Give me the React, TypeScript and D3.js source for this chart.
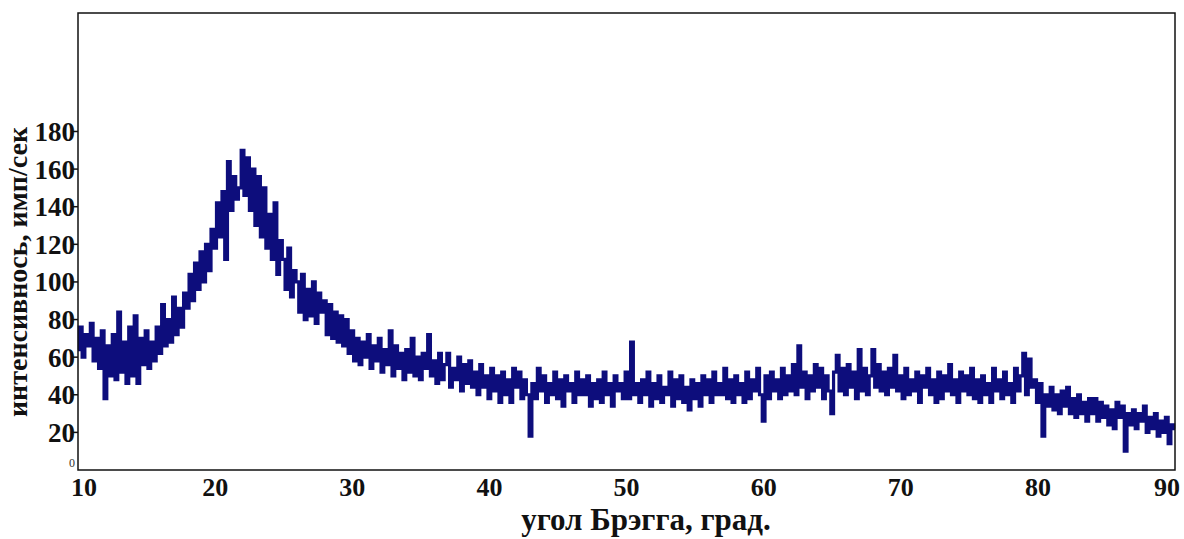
import React from "react";
import * as d3 from "d3";

// intensity, 0.2 deg step
const seg10 = [
  64, 76, 60, 72, 66, 78, 58, 70, 54, 74, 38, 66, 50, 72, 48, 84, 52, 68, 46, 76,
  50, 82, 46, 70, 56, 74, 54, 68, 58, 76, 62, 88, 66, 80, 68, 92, 72, 86, 76, 94,
  86, 104, 90, 110, 96, 116, 100, 120, 106, 128,
];
const seg20 = [
  118, 142, 124, 148, 112, 164, 138, 156, 144, 150, 170, 146, 166, 138, 160,
  130, 156, 124, 150, 118, 136, 112, 142, 104, 122, 112, 96, 118, 92, 106, 100,
  84, 104, 80, 96, 82, 100, 78, 94, 84, 90, 72, 88, 70, 84, 68, 82, 66, 80, 62,
];
const seg30 = [
  74, 58, 70, 56, 68, 60, 72, 54, 66, 58, 70, 52, 64, 56, 74, 50, 66, 54, 62, 48,
  64, 52, 70, 50, 60, 48, 62, 54, 72, 50, 58, 46, 62, 48, 56, 62, 44, 54, 48, 60,
  42, 56, 46, 58, 44, 52, 40, 56, 44, 50,
];
const seg40 = [
  38, 54, 42, 50, 36, 52, 40, 48, 36, 54, 44, 52, 38, 48, 40, 18, 46, 38, 54, 42,
  50, 36, 46, 40, 52, 38, 48, 34, 50, 42, 46, 36, 52, 40, 48, 40, 50, 34, 46, 38,
  48, 36, 52, 40, 46, 34, 50, 42, 46, 38,
];
const seg50 = [
  52, 38, 68, 40, 46, 36, 48, 40, 52, 34, 46, 38, 50, 36, 44, 40, 52, 34, 48, 38,
  50, 36, 44, 32, 48, 38, 46, 34, 50, 40, 48, 36, 52, 40, 46, 40, 54, 38, 48, 36,
  50, 40, 46, 36, 52, 38, 48, 42, 54, 40,
];
const seg60 = [
  26, 50, 38, 52, 42, 48, 38, 54, 40, 50, 42, 56, 40, 66, 44, 52, 38, 50, 42, 56,
  44, 54, 38, 50, 42, 30, 52, 61, 42, 54, 40, 56, 44, 52, 38, 64, 42, 54, 40, 50,
  64, 44, 56, 42, 52, 40, 54, 44, 61, 42,
];
const seg70 = [
  50, 38, 54, 40, 48, 42, 52, 36, 50, 44, 54, 40, 48, 36, 52, 38, 50, 42, 56, 40,
  48, 36, 52, 42, 50, 40, 54, 38, 48, 36, 50, 40, 46, 36, 54, 42, 48, 38, 52, 40,
  46, 36, 54, 42, 50, 62, 40, 59, 44, 48,
];
const seg80 = [
  36, 46, 18, 40, 34, 44, 32, 40, 30, 42, 34, 44, 30, 38, 28, 40, 30, 36, 26, 38,
  30, 38, 26, 36, 28, 34, 24, 32, 22, 36, 28, 34, 10, 30, 24, 32, 22, 30, 26, 34,
  20, 28, 22, 30, 18, 26, 20, 28, 14, 24, 22,
];

const xTicks = [10, 20, 30, 40, 50, 60, 70, 80, 90];
const yTicks = [20, 40, 60, 80, 100, 120, 140, 160, 180];

const xTitle = "угол Брэгга, град.";
const yTitle = "интенсивнось, имп/сек";

const intensity = [
  ...seg10, ...seg20, ...seg30, ...seg40, ...seg50, ...seg60, ...seg70, ...seg80,
];
const points = intensity.map((v, i) => ({ angle: 10 + i * 0.2, value: v }));

export default function App() {
  const width = 1184;
  const height = 539;
  const left = 78;
  const right = 1175;
  const top = 13;
  const bottom = 470;

  const x = d3.scaleLinear().domain([10, 90]).range([left, right]);
  const y = d3.scaleLinear().domain([0, 243]).range([bottom, top]);

  const line = d3
    .line<{ angle: number; value: number }>()
    .x((d) => x(d.angle))
    .y((d) => y(d.value))
    .curve(d3.curveStep);

  const font = "'Liberation Serif', 'DejaVu Serif', serif";

  return (
    <svg
      width={width}
      height={height}
      style={{ position: "absolute", left: 0, top: 0, background: "#fff" }}
    >
      <path
        d={line(points) || ""}
        fill="none"
        stroke="#0d0d7c"
        strokeWidth={3.2}
        strokeLinejoin="miter"
      />
      <rect
        x={left}
        y={top}
        width={right - left}
        height={bottom - top}
        fill="none"
        stroke="#111"
        strokeWidth={1.5}
      />

      {yTicks.map((t) => (
        <g key={t} transform={`translate(${left},${y(t)})`}>
          <line x1={-6} x2={0} stroke="#111" strokeWidth={1.5} />
          <text
            x={-3}
            dy="0.35em"
            textAnchor="end"
            fontFamily={font}
            fontWeight="bold"
            fontSize={27}
            fill="#111"
          >
            {t}
          </text>
        </g>
      ))}
      <text
        x={left - 3}
        y={y(0) - 3}
        textAnchor="end"
        fontFamily={font}
        fontSize={12}
        fill="#333"
      >
        0
      </text>

      {xTicks.map((t, i) => {
        const anchor = i === 0 ? "start" : i === xTicks.length - 1 ? "end" : "middle";
        const dx = i === 0 ? -7 : i === xTicks.length - 1 ? 5 : 0;
        return (
          <text
            key={t}
            x={x(t) + dx}
            y={bottom + 26}
            textAnchor={anchor}
            fontFamily={font}
            fontWeight="bold"
            fontSize={26}
            fill="#111"
          >
            {t}
          </text>
        );
      })}

      <text
        x={646}
        y={530}
        textAnchor="middle"
        fontFamily={font}
        fontWeight="bold"
        fontSize={31}
        fill="#111"
      >
        {xTitle}
      </text>
      <text
        transform={`translate(27,272) rotate(-90)`}
        textAnchor="middle"
        fontFamily={font}
        fontWeight="bold"
        fontSize={28}
        fill="#111"
      >
        {yTitle}
      </text>
    </svg>
  );
}
